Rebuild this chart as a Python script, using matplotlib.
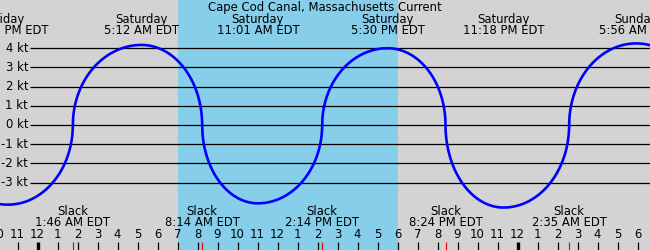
import numpy as np
import matplotlib
matplotlib.use("Agg")
import matplotlib.pyplot as plt
from matplotlib.transforms import blended_transform_factory

plt.rcParams['font.family'] = ['DejaVu Sans']

title = "Cape Cod Canal, Massachusetts Current"

# hours relative to Saturday 00:00 EDT
extreme_hours = [-1.48, 5.2, 11.017, 17.5, 23.3, 29.933]
extreme_values = [-4.15, 4.17, -4.08, 4.0, -4.3, 4.25]
extreme_days = ["Friday", "Saturday", "Saturday", "Saturday", "Saturday", "Sunday"]
extreme_labels = ["10:31 PM EDT", "5:12 AM EDT", "11:01 AM EDT", "5:30 PM EDT",
                  "11:18 PM EDT", "5:56 AM EDT"]

slack_hours = [-4.9, 1.767, 8.233, 14.233, 20.4, 26.583, 33.25]
slack_labels = ["", "1:46 AM EDT", "8:14 AM EDT", "2:14 PM EDT", "8:24 PM EDT",
                "2:35 AM EDT", ""]

daylight = (7.0, 18.0)
grid_levels = [4, 3, 2, 1, 0, -1, -2, -3]
hour_ticks = list(range(-2, 31))
hour_names = [str((h % 12) if (h % 12) else 12) for h in hour_ticks]
midnights = [0, 24]

# curve from events: elliptical arcs between slack and extreme
t = np.linspace(-5, 33, 6000)
v = np.full_like(t, np.nan)
events = sorted([(s, 0.0) for s in slack_hours] + list(zip(extreme_hours, extreme_values)))
for (t0, v0), (t1, v1) in zip(events[:-1], events[1:]):
    m = (t >= t0) & (t <= t1)
    if v0 == 0.0:   # slack -> extreme
        u = (t[m] - t1) / (t1 - t0)
        v[m] = v1 * np.sqrt(np.clip(1 - u ** 2, 0, 1))
    else:           # extreme -> slack
        u = (t[m] - t0) / (t1 - t0)
        v[m] = v0 * np.sqrt(np.clip(1 - u ** 2, 0, 1))

W, H = 650, 250
fig = plt.figure(figsize=(W / 100, H / 100), dpi=100)
ax = fig.add_axes([0, 0, 1, 1])
fig.patch.set_facecolor('#d3d3d3')
ax.set_facecolor('#d3d3d3')

x0 = -1.875
x1 = x0 + W / 20.0
ax.set_xlim(x0, x1)
ax.set_ylim(-125 / 19.2, 125 / 19.2)
ax.axis('off')

ax.axvspan(daylight[0], daylight[1], color='#87ceeb', lw=0, zorder=0)

def px2x(px):
    return x0 + px / 20.0

ax.hlines(grid_levels, px2x(30), x1, colors='black', lw=0.9, zorder=1)

ax.plot(t, v, color='#0000ff', lw=1.9, zorder=3)

fs = 8.4
tr = blended_transform_factory(ax.transAxes, ax.transData)
for lv in grid_levels:
    ax.text(28 / W, lv, f"{lv} kt", transform=tr, ha='right', va='center', fontsize=fs)

xt = ax.get_xaxis_transform()
def yf(py):
    return 1 - py / H

ax.text(0.5, yf(7), title, transform=ax.transAxes, ha='center', va='center', fontsize=fs)
for h, d, lab in zip(extreme_hours, extreme_days, extreme_labels):
    ax.text(h, yf(19.5), d, transform=xt, ha='center', va='center', fontsize=fs)
    ax.text(h, yf(31), lab, transform=xt, ha='center', va='center', fontsize=fs)

for h, lab in zip(slack_hours, slack_labels):
    if lab:
        ax.text(h, yf(211.5), "Slack", transform=xt, ha='center', va='center', fontsize=fs)
        ax.text(h, yf(223), lab, transform=xt, ha='center', va='center', fontsize=fs)

for h, name in zip(hour_ticks, hour_names):
    ax.text(h, yf(234.5), name, transform=xt, ha='center', va='center', fontsize=fs)
    lw = 2.4 if h in midnights else 0.9
    ax.plot([h, h], [yf(242), 0], transform=xt, color='black', lw=lw, solid_capstyle='butt', zorder=2)

for h, lab in zip(slack_hours, slack_labels):
    if lab:
        ax.plot([h, h], [yf(242), 0], transform=xt, color='red', lw=0.9, solid_capstyle='butt', zorder=2)

fig.savefig("out.png", dpi=100, facecolor=fig.get_facecolor())
